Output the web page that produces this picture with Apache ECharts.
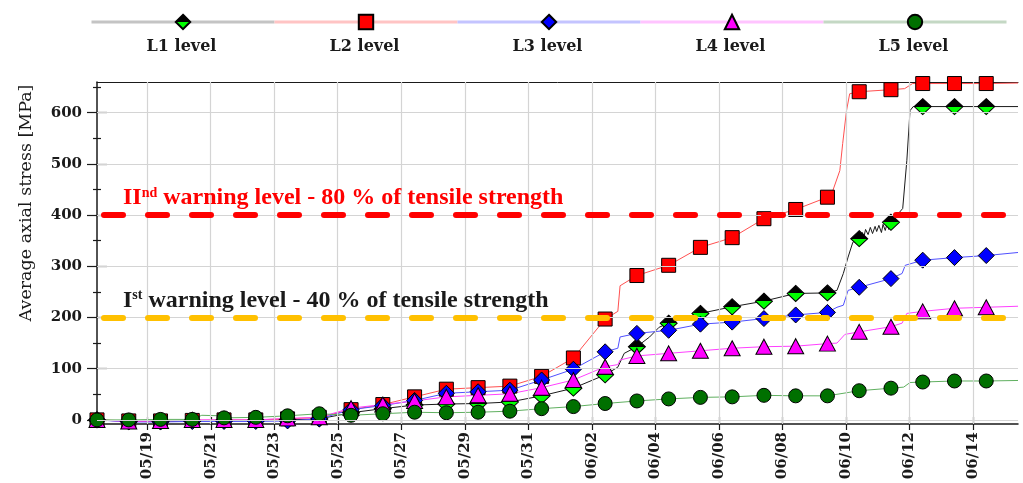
<!DOCTYPE html>
<html>
<head>
<meta charset="utf-8">
<script src="https://cdn.jsdelivr.net/npm/echarts@6/dist/echarts.min.js"></script>
<style>
  html, body { margin: 0; padding: 0; background: #fff; }
  #chart { width: 1023px; height: 483px; }
</style>
</head>
<body>
<div id="chart"></div>
<script>
// ---- data -------------------------------------------------------------
const seriesNames = ['L1 level', 'L2 level', 'L3 level', 'L4 level', 'L5 level'];

// One reading per day, starting 17 May 10:00 (day 0 .. 28)
const l1Daily = [0, -3, -3, -2, -1, -1, 0, 2, 14, 22, 29, 31, 32, 35, 47, 62, 88, 143, 189, 208, 221, 232, 247, 248, 354, 386, 612, 612, 612];
const l2Daily = [0, -2, -2, -1, 0, 0, 2, 5, 20, 30, 45, 60, 63, 66, 85, 121, 197, 282, 302, 337, 356, 393, 411, 435, 641, 645, 657, 657, 657];
const l3Daily = [0, -4, -4, -3, -3, -3, -2, 2, 20, 28, 38, 52, 55, 58, 78, 99, 133, 169, 175, 187, 191, 198, 205, 210, 259, 276, 312, 317, 321];
const l4Daily = [0, -3, -2, 0, 0, 0, 3, 5, 23, 30, 37, 45, 48, 51, 63, 78, 104, 125, 130, 135, 140, 143, 144, 149, 172, 182, 212, 218, 220];
const l5Daily = [0, 0, 1, 1, 4, 5, 8, 12, 9, 12, 15, 14, 15, 17, 22, 26, 32, 37, 41, 44, 45, 48, 47, 47, 57, 62, 74, 76, 76];

// Intermediate readings between the daily markers: [days since first reading, MPa]
const l1Between = [[16.4, 103], [16.6, 130], [17.4, 162], [17.7, 181], [23.3, 253], [23.5, 286], [23.65, 318], [23.8, 347],
  [24.1, 366], [24.15, 358], [24.2, 372], [24.28, 362], [24.35, 376], [24.42, 364], [24.5, 378], [24.55, 368], [24.62, 380],
  [24.7, 366], [24.75, 382], [24.82, 370], [24.88, 384], [24.93, 372],
  [25.37, 413], [25.5, 507], [25.6, 604], [25.7, 612], [29, 612]];
const l2Between = [[16.4, 212], [16.47, 262], [23.17, 448], [23.39, 487], [23.48, 540], [23.6, 604], [23.7, 637],
  [25.43, 647], [25.68, 657], [29, 658]];
const l3Between = [[16.4, 140], [16.47, 162], [23.3, 220], [23.5, 224], [23.65, 253], [25.35, 286], [25.45, 302], [29, 327]];
const l4Between = [[16.4, 108], [16.47, 117], [23.3, 150], [23.55, 167], [25.35, 189], [25.5, 208], [29, 222]];
const l5Between = [[3.3, 9], [3.9, 8], [25.4, 64], [25.6, 73], [29, 77]];

const tickDates = ['05/19', '05/21', '05/23', '05/25', '05/27', '05/29', '05/31', '06/02', '06/04', '06/06', '06/08', '06/10', '06/12', '06/14'];
const yTicks = [0, 100, 200, 300, 400, 500, 600];
const yMinorTicks = [50, 150, 250, 350, 450, 550, 650];

const warningLevels = [400, 200];
const warningOrdinals = [['II', 'nd'], ['I', 'st']];
const warningTexts = [' warning level - 80 % of tensile strength', ' warning level - 40 % of tensile strength'];

// ---- helpers ----------------------------------------------------------
// x is measured in days since the first reading (17 May, 10:00)
const YEAR = 2013;
const DAY = 86400000;
const startTime = new Date(YEAR, 4, 17, 10, 0).getTime();
const tickDays = tickDates.map(s => {
  const [m, d] = s.split('/').map(Number);
  return (new Date(YEAR, m - 1, d).getTime() - startTime) / DAY;
});
const dayLabel = v => {
  const i = tickDays.findIndex(t => Math.abs(t - v) < 1e-6);
  return i >= 0 ? tickDates[i] : '';
};

function buildLine(daily, between) {
  const pts = daily.map((v, k) => ({ value: [k, v] }));
  between.forEach(([k, v]) => pts.push({ value: [k, v], symbol: 'none' }));
  pts.sort((a, b) => a.value[0] - b.value[0]);
  return pts;
}

const serif = 'DejaVu Serif';
const xMin = 0, xMax = 29;
const yMin = -8, yMax = 660;

const l1Fill = new echarts.graphic.LinearGradient(0, 0, 0, 1, [
  { offset: 0, color: '#000000' }, { offset: 0.5, color: '#000000' },
  { offset: 0.5, color: '#00ff00' }, { offset: 1, color: '#00ff00' }
]);

const looks = [
  { data: buildLine(l1Daily, l1Between), symbol: 'diamond', size: [17, 16], fill: l1Fill, line: '#1a1a1a', legendLine: '#c4c4c4' },
  { data: buildLine(l2Daily, l2Between), symbol: 'rect', size: [14, 14], fill: '#ff0000', line: '#ff5050', legendLine: '#ffc4c4' },
  { data: buildLine(l3Daily, l3Between), symbol: 'diamond', size: [16, 16], fill: '#0000ff', line: '#5050ff', legendLine: '#c4c4ff' },
  { data: buildLine(l4Daily, l4Between), symbol: 'triangle', size: [16, 15], fill: '#ff00ff', line: '#ff40ff', legendLine: '#ffc4ff' },
  { data: buildLine(l5Daily, l5Between), symbol: 'circle', size: [14, 14], fill: '#007000', line: '#60b060', legendLine: '#c4d8c4' }
];

// light grid drawn underneath everything, at the labelled positions
const series = [{
  name: 'grid',
  type: 'line',
  data: [],
  silent: true,
  z: 0,
  markLine: {
    silent: true,
    symbol: 'none',
    animation: false,
    label: { show: false },
    lineStyle: { type: 'solid', color: '#d4d4d4', width: 1.2 },
    data: [
      ...yTicks.map(v => ({ yAxis: v })),
      ...tickDays.map(v => ({ xAxis: v }))
    ]
  }
}];

seriesNames.forEach((name, i) => series.push({
  name,
  type: 'line',
  data: looks[i].data,
  symbol: looks[i].symbol,
  symbolSize: looks[i].size,
  showSymbol: true,
  showAllSymbol: true,
  itemStyle: { color: looks[i].fill, borderColor: '#000', borderWidth: 1 },
  lineStyle: { color: looks[i].line, width: 1 },
  emphasis: { disabled: true },
  silent: true
}));

const warningColors = ['#ff0000', '#ffc000'];
const warningTextColors = ['#ff0000', '#1a1a1a'];
series.push({
  name: 'warning',
  type: 'line',
  data: [],
  silent: true,
  z: 10,
  markLine: {
    silent: true,
    symbol: 'none',
    animation: false,
    lineStyle: { type: [19, 25], dashOffset: -7, width: 6, cap: 'round' },
    data: warningLevels.map((lvl, i) => ({
      yAxis: lvl,
      lineStyle: { color: warningColors[i] },
      label: {
        show: true,
        position: 'insideStartTop',
        distance: [26, 5],
        formatter: '{m|' + warningOrdinals[i][0] + '}{s|' + warningOrdinals[i][1] + '}{m|' + warningTexts[i] + '}',
        rich: {
          m: { fontFamily: 'Liberation Serif', fontWeight: 'bold', fontSize: 24, color: warningTextColors[i] },
          s: { fontFamily: 'Liberation Serif', fontWeight: 'bold', fontSize: 14, color: warningTextColors[i], verticalAlign: 'top' }
        }
      }
    }))
  }
});

// ---- legend: five separate entries laid along one row ----
const legendLeft = 90, legendStep = 183;
const legends = seriesNames.map((name, i) => ({
  left: legendLeft + legendStep * i,
  top: 13,
  itemWidth: legendStep,
  itemHeight: 18,
  itemGap: 0,
  padding: 0,
  selectedMode: false,
  formatter: () => '',
  data: [{ name, lineStyle: { color: looks[i].legendLine, width: 3 } }]
}));

const legendLabels = seriesNames.map((name, i) => ({
  type: 'text',
  x: legendLeft + legendStep * i + legendStep / 2,
  y: 47,
  silent: true,
  style: { text: name, fontFamily: serif, fontWeight: 'bold', fontSize: 16, fill: '#1a1a1a', align: 'center', verticalAlign: 'middle' }
}));

const none = { show: false };

const option = {
  animation: false,
  backgroundColor: '#ffffff',
  legend: legends,
  graphic: legendLabels,
  grid: { left: 97, right: 5, top: 82, bottom: 59, containLabel: false },
  xAxis: [
    {
      type: 'value', min: xMin, max: xMax, position: 'bottom',
      axisLine: { show: true, onZero: false, lineStyle: { color: '#1a1a1a', width: 1.5 } },
      axisTick: { show: true, length: 6, customValues: tickDays, lineStyle: { color: '#1a1a1a', width: 1.2 } },
      axisLabel: {
        customValues: tickDays, rotate: 90, margin: 8, padding: [0, 0, 10, 0],
        formatter: dayLabel,
        fontFamily: serif, fontWeight: 'bold', fontSize: 15, color: '#1a1a1a'
      },
      splitLine: none
    },
    {
      type: 'value', min: xMin, max: xMax, position: 'top',
      axisLine: { show: true, onZero: false, lineStyle: { color: '#1a1a1a', width: 1 } },
      axisTick: none, axisLabel: none, splitLine: none
    },
    {
      type: 'value', min: xMin, max: xMax, position: 'bottom',
      axisLine: { show: false, onZero: false },
      axisTick: { show: true, inside: true, length: 7, customValues: tickDays, lineStyle: { color: '#1a1a1a', width: 1.2 } },
      axisLabel: none, splitLine: none
    }
  ],
  yAxis: [
    {
      type: 'value', min: yMin, max: yMax, position: 'left',
      name: 'Average axial stress [MPa]', nameLocation: 'middle', nameGap: 62,
      nameTextStyle: { fontFamily: serif, fontSize: 17.5, color: '#1a1a1a', padding: [0, 0, 0, 100] },
      axisLine: { show: true, onZero: false, lineStyle: { color: '#1a1a1a', width: 1.5 } },
      axisTick: { show: true, length: 10, customValues: yTicks, lineStyle: { color: '#1a1a1a', width: 1.2 } },
      axisLabel: { customValues: yTicks, margin: 15, fontFamily: serif, fontWeight: 'bold', fontSize: 15, color: '#1a1a1a' },
      splitLine: none
    },
    {
      type: 'value', min: yMin, max: yMax, position: 'left',
      axisLine: { show: false, onZero: false },
      axisTick: { show: true, inside: true, length: 10, customValues: yTicks, lineStyle: { color: '#1a1a1a', width: 1.2 } },
      axisLabel: none, splitLine: none
    },
    {
      type: 'value', min: yMin, max: yMax, position: 'left',
      axisLine: { show: false, onZero: false },
      axisTick: { show: true, length: 4, customValues: yMinorTicks, lineStyle: { color: '#1a1a1a', width: 1.2 } },
      axisLabel: none, splitLine: none
    },
    {
      type: 'value', min: yMin, max: yMax, position: 'left',
      axisLine: { show: false, onZero: false },
      axisTick: { show: true, inside: true, length: 4, customValues: yMinorTicks, lineStyle: { color: '#1a1a1a', width: 1.2 } },
      axisLabel: none, splitLine: none
    }
  ],
  series
};

const chart = echarts.init(document.getElementById('chart'), null, { renderer: 'canvas' });
chart.setOption(option);
</script>
</body>
</html>
